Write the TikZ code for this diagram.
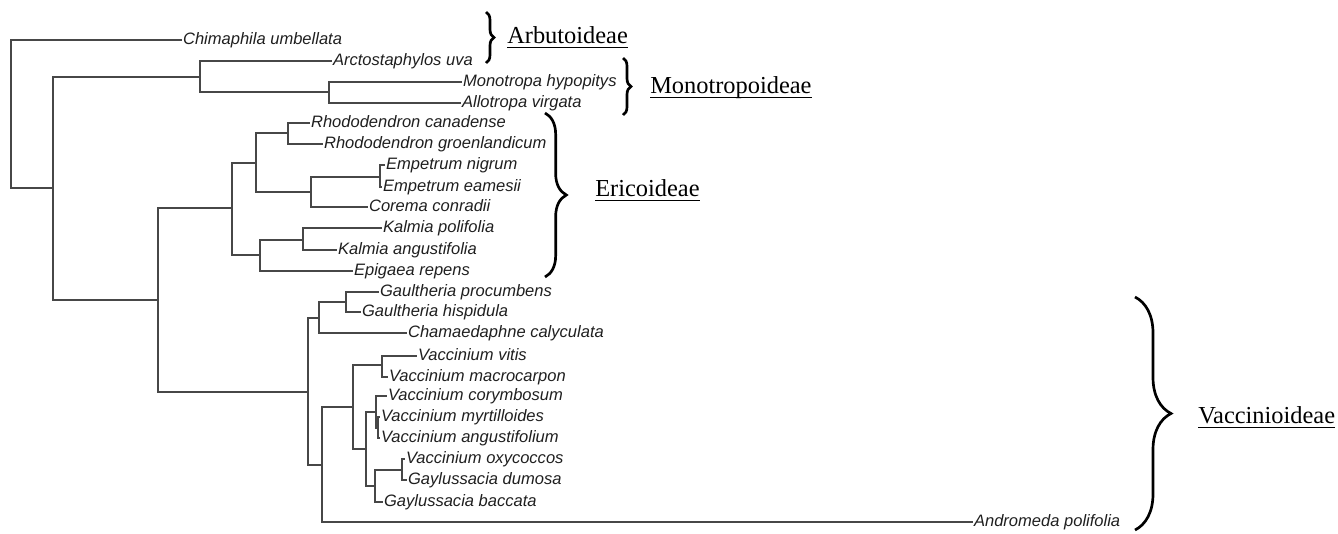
\documentclass[tikz,border=0pt]{standalone}
\usepackage{fontspec}
\setmainfont{Liberation Serif}
\newfontfamily\taxonfont{Liberation Sans}
\usetikzlibrary{decorations.pathreplacing}

\newcommand\cladeline[1]{\setbox0\hbox{#1}\rlap{\rule[-4pt]{\wd0}{1.3pt}}\box0}

\begin{document}
\begin{tikzpicture}[x=0.75pt, y=-0.75pt,
    branch/.style={draw=black!72, line width=0.8pt},
    taxon/.style={anchor=west, inner xsep=0.6pt, inner ysep=0pt, text height=7.4pt, text depth=0pt,
      font=\taxonfont\itshape\fontsize{12.4}{14}\selectfont, text=black!88},
    clade/.style={anchor=base west, inner sep=0pt, font=\fontsize{18.3}{22}\selectfont},
    curly/.style={decorate, decoration={brace, amplitude=#1}, line width=2pt}]
  \useasboundingbox (0,0) rectangle (1338,533);
  % Inner nodes of the tree.
  \foreach \n/\x/\y in {r0/11/114, n1/53/188, n2/200/77, n3/329/92, n4/158/300,
      e1/232/208, e2/256/163, e3/288/133, e4/311/192, e5/380/177, e6/260/255, e7/303/240,
      v1/308/392, v2/319/318, v3/346/302, v4/322/465, v5/353/407, v6/382/365,
      v7/366/449, v8/376/412, v9/378/428, v10/375/486, v11/402/470}
    \coordinate (\n) at (\x,\y);
  % Leaves.
  \foreach \n/\x/\y/\t in {chim/182/40/Chimaphila umbellata, arcto/332/61/Arctostaphylos uva,
      mono/462/82/Monotropa hypopitys, allo/461/103/Allotropa virgata,
      rcan/310/123/Rhododendron canadense, rgro/323/144/Rhododendron groenlandicum,
      enig/385/165/Empetrum nigrum, eeam/382/187/Empetrum eamesii,
      corema/368/207/Corema conradii, kpol/382/228/Kalmia polifolia,
      kang/337/250/Kalmia angustifolia, epig/353/271/Epigaea repens,
      gpro/379/292/Gaultheria procumbens, ghis/361/312/Gaultheria hispidula,
      cham/407/333/Chamaedaphne calyculata, vvit/417/356/Vaccinium vitis,
      vmac/388/377/Vaccinium macrocarpon, vcor/387/396/Vaccinium corymbosum,
      vmyr/380/417/Vaccinium myrtilloides, vang/380/438/Vaccinium angustifolium,
      voxy/405/459/Vaccinium oxycoccos, gdum/407/480/Gaylussacia dumosa,
      gbac/383/502/Gaylussacia baccata, andr/973/522/Andromeda polifolia}
    \node[taxon] (\n) at (\x,\y) {\t};
  % Branches.
  \foreach \p/\c in {r0/chim, r0/n1, n1/n2, n1/n4, n2/arcto, n2/n3, n3/mono, n3/allo,
      n4/e1, n4/v1, e1/e2, e1/e6, e2/e3, e2/e4, e3/rcan, e3/rgro, e4/e5, e4/corema,
      e5/enig, e5/eeam, e6/e7, e6/epig, e7/kpol, e7/kang,
      v1/v2, v1/v4, v2/v3, v2/cham, v3/gpro, v3/ghis, v4/v5, v4/andr, v5/v6, v5/v7,
      v6/vvit, v6/vmac, v7/v8, v7/v10, v8/vcor, v8/v9, v9/vmyr, v9/vang,
      v10/v11, v10/gbac, v11/voxy, v11/gdum}
    \draw[branch] (\p) |- (\c);
  % Subfamily braces.
  \draw[curly=6pt] (486,12) -- (486,63);
  \draw[curly=6pt] (623,58) -- (623,115);
  \draw[curly=16pt] (545,113) -- (545,277);
  \draw[curly=27pt] (1135,297) -- (1135,530);
  \node[clade] (arbu) at (507,43) {\cladeline{Arbutoideae}};
  \node[clade] (monot) at (650,93) {\cladeline{Monotropoideae}};
  \node[clade] (eric) at (595,196) {\cladeline{Ericoideae}};
  \node[clade] (vacc) at (1198,423) {\cladeline{Vaccinioideae}};
\end{tikzpicture}
\end{document}
